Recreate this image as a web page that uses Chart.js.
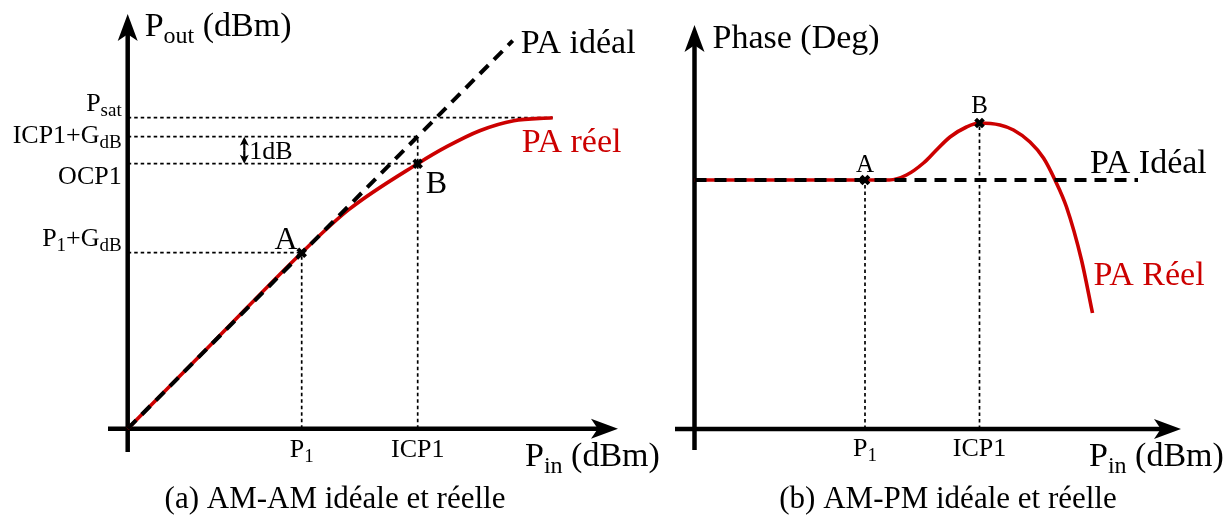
<!DOCTYPE html>
<html>
<head>
<meta charset="utf-8">
<script src="https://cdn.jsdelivr.net/npm/chart.js@4.4.0/dist/chart.umd.min.js"></script>
<style>
  html, body { margin: 0; padding: 0; background: #fff; }
  #wrap { position: relative; width: 1229px; height: 520px; }
  canvas { position: absolute; left: 0; top: 0; }
</style>
</head>
<body>
<div id="wrap">
  <canvas id="am-canvas" width="1229" height="520"></canvas>
  <canvas id="pm-canvas" width="1229" height="520"></canvas>
</div>
<script>
// --- (a) AM-AM ---
const amPinTicks = [17.4, 29.0]
const amPinLabels = ['P_{1}', 'ICP1']
const amPoutLevels = [31.1, 29.2, 26.5, 17.6]
const amPoutLabels = ['P_{sat}', 'ICP1+G_{dB}', 'OCP1', 'P_{1}+G_{dB}']
const amIdealX = [0, 38.5]
const amIdealY = [0, 38.8]
const amRealX = [0, 8.7, 17.4, 22.1, 29.0, 31.9, 35.2, 38.6, 42.5]
const amRealY = [0, 8.8, 17.6, 21.9, 26.5, 28.2, 29.8, 30.8, 31.1]
const amPointNames = ['A', 'B']

// --- (b) AM-PM ---
const pmPinTicks = [17.05, 28.5]
const pmPinLabels = ['P_{1}', 'ICP1']
const pmIdealX = [0, 44.35]
const pmIdealY = [24.9, 24.9]
const pmRealX = [0, 10, 17.05, 19.5, 21.2, 22.9, 24.0, 25.55, 27.2, 28.5, 30.55, 31.9, 33.55, 34.9, 36.05, 37.2, 38.7, 39.8]
const pmRealY = [24.9, 24.9, 24.9, 24.9, 25.4, 26.6, 27.7, 29.2, 30.2, 30.6, 30.4, 29.9, 28.7, 27.1, 24.9, 22.2, 16.9, 11.6]
const pmPointNames = ['A', 'B']

const RED = '#cc0000'
const SERIF = '"Liberation Serif", "Times New Roman", serif'

const toXY = (xs, ys) => xs.map((x, i) => ({ x: x, y: ys[i] }))

function richText(ctx, str, x, y, size, align, color) {
  const parts = []
  const re = /_\{([^}]*)\}/g
  let last = 0, m
  while ((m = re.exec(str))) {
    if (m.index > last) parts.push({ t: str.slice(last, m.index), sub: false })
    parts.push({ t: m[1], sub: true })
    last = re.lastIndex
  }
  if (last < str.length) parts.push({ t: str.slice(last), sub: false })
  const subSize = Math.round(size * 0.72)
  let w = 0
  parts.forEach(p => {
    ctx.font = (p.sub ? subSize : size) + 'px ' + SERIF
    p.w = ctx.measureText(p.t).width
    w += p.w
  })
  let cx = align === 'center' ? x - w / 2 : align === 'right' ? x - w : x
  ctx.save()
  ctx.fillStyle = color || '#000'
  ctx.textAlign = 'left'
  ctx.textBaseline = 'alphabetic'
  parts.forEach(p => {
    ctx.font = (p.sub ? subSize : size) + 'px ' + SERIF
    ctx.fillText(p.t, cx, p.sub ? y + size * 0.2 : y)
    cx += p.w
  })
  ctx.restore()
}

function arrow(ctx, x1, y1, x2, y2, len, half, width) {
  const a = Math.atan2(y2 - y1, x2 - x1)
  const c = Math.cos(a), s = Math.sin(a)
  ctx.save()
  ctx.strokeStyle = '#000'
  ctx.fillStyle = '#000'
  ctx.lineWidth = width
  ctx.setLineDash([])
  ctx.beginPath()
  ctx.moveTo(x1, y1)
  ctx.lineTo(x2 - c * len * 0.7, y2 - s * len * 0.7)
  ctx.stroke()
  ctx.beginPath()
  ctx.moveTo(x2, y2)
  ctx.lineTo(x2 - c * len - s * half, y2 - s * len + c * half)
  ctx.lineTo(x2 - c * len * 0.75, y2 - s * len * 0.75)
  ctx.lineTo(x2 - c * len + s * half, y2 - s * len - c * half)
  ctx.closePath()
  ctx.fill()
  ctx.restore()
}

function drawAxes(chart) {
  const { ctx, chartArea } = chart
  const x0 = chart.scales.x.getPixelForValue(0)
  const y0 = chart.scales.y.getPixelForValue(0)
  arrow(ctx, x0, chartArea.bottom, x0, chartArea.top, 27, 10, 4.5)
  arrow(ctx, chartArea.left, y0, chartArea.right, y0, 27, 10, 4.5)
}

const guide = (pts) => ({
  data: pts,
  borderColor: '#000',
  borderWidth: 1.7,
  borderDash: [3.5, 3],
  pointRadius: 0
})

const markerSet = (pts) => ({
  data: pts,
  showLine: false,
  pointStyle: 'crossRot',
  pointRadius: 5.5,
  pointBorderWidth: 4,
  pointBorderColor: '#000',
  borderColor: '#000'
})

const baseOptions = (pad, xr, yr) => ({
  responsive: false,
  animation: false,
  devicePixelRatio: 1,
  layout: { padding: pad },
  plugins: { legend: { display: false }, tooltip: { enabled: false } },
  scales: {
    x: { type: 'linear', min: xr[0], max: xr[1], display: false },
    y: { type: 'linear', min: yr[0], max: yr[1], display: false }
  }
})

// ---------- AM-AM ----------
const amMarks = [[amPinTicks[0], amPoutLevels[3]], [amPinTicks[1], amPoutLevels[2]]]
const amGuides = [
  guide([{ x: 0, y: amPoutLevels[0] }, { x: amRealX[amRealX.length - 1], y: amPoutLevels[0] }]),
  guide([{ x: 0, y: amPoutLevels[1] }, { x: amPinTicks[1], y: amPoutLevels[1] }]),
  guide([{ x: 0, y: amPoutLevels[2] }, { x: amPinTicks[1], y: amPoutLevels[2] }]),
  guide([{ x: 0, y: amPoutLevels[3] }, { x: amPinTicks[0], y: amPoutLevels[3] }]),
  guide([{ x: amPinTicks[0], y: 0 }, { x: amPinTicks[0], y: amPoutLevels[3] }]),
  guide([{ x: amPinTicks[1], y: 0 }, { x: amPinTicks[1], y: amPoutLevels[1] }])
]

new Chart(document.getElementById('am-canvas'), {
  type: 'line',
  data: {
    datasets: [
      markerSet(amMarks.map(p => ({ x: p[0], y: p[1] }))),
      {
        data: toXY(amIdealX, amIdealY),
        borderColor: '#000', borderWidth: 4, borderDash: [12, 8], pointRadius: 0
      },
      {
        data: toXY(amRealX, amRealY),
        borderColor: RED, borderWidth: 3.6, pointRadius: 0, cubicInterpolationMode: 'monotone'
      },
      ...amGuides
    ]
  },
  options: baseOptions({ left: 108, right: 611, top: 14, bottom: 68 }, [-1.97, 49.03], [-2.33, 41.47]),
  plugins: [{
    id: 'amDecor',
    beforeDatasetsDraw(chart) {
      drawAxes(chart)
    },
    afterDatasetsDraw(chart) {
      const { ctx, chartArea } = chart
      const sx = chart.scales.x, sy = chart.scales.y
      const x0 = sx.getPixelForValue(0), y0 = sy.getPixelForValue(0)
      // axis titles
      richText(ctx, 'P_{out} (dBm)', x0 + 17, chartArea.top + 22, 34, 'left')
      richText(ctx, 'P_{in} (dBm)', chartArea.right - 93, y0 + 37, 34, 'left')
      // x tick labels
      amPinTicks.forEach((v, i) => richText(ctx, amPinLabels[i], sx.getPixelForValue(v), y0 + 28, 26, 'center'))
      // y tick labels
      const dy = [-7, 6, 20, -7]
      amPoutLevels.forEach((v, i) => richText(ctx, amPoutLabels[i], x0 - 6, sy.getPixelForValue(v) + dy[i], 26, 'right'))
      // 1 dB arrow
      const ax = sx.getPixelForValue(11.66)
      const ya = sy.getPixelForValue(amPoutLevels[1]), yb = sy.getPixelForValue(amPoutLevels[2])
      const mid = (ya + yb) / 2
      arrow(ctx, ax, mid, ax, ya, 9, 4.5, 2.2)
      arrow(ctx, ax, mid, ax, yb, 9, 4.5, 2.2)
      richText(ctx, '1dB', ax + 5, mid + 9, 26, 'left')
      // point names
      const pa = amMarks[0], pb = amMarks[1]
      richText(ctx, amPointNames[0], sx.getPixelForValue(pa[0]) - 4, sy.getPixelForValue(pa[1]) - 4, 32, 'right')
      richText(ctx, amPointNames[1], sx.getPixelForValue(pb[0]) + 8, sy.getPixelForValue(pb[1]) + 29, 32, 'left')
      // series names
      const ie = amIdealX.length - 1, re = amRealX.length - 1
      richText(ctx, 'PA idéal', sx.getPixelForValue(amIdealX[ie]) + 8, sy.getPixelForValue(amIdealY[ie]) + 12, 34, 'left')
      richText(ctx, 'PA réel', sx.getPixelForValue(amRealX[re]) - 31, sy.getPixelForValue(amRealY[re]) + 34, 34, 'left', RED)
      // caption
      richText(ctx, '(a) AM-AM idéale et réelle', 335, 508, 31, 'center')
    }
  }]
})

// ---------- AM-PM ----------
const pmMarks = [[pmPinTicks[0], pmIdealY[0]], [pmPinTicks[1], pmRealY[pmRealX.indexOf(pmPinTicks[1])]]]
const pmGuides = [
  guide([{ x: pmPinTicks[0], y: 0 }, { x: pmPinTicks[0], y: pmMarks[0][1] }]),
  guide([{ x: pmPinTicks[1], y: 0 }, { x: pmPinTicks[1], y: pmMarks[1][1] }])
]

new Chart(document.getElementById('pm-canvas'), {
  type: 'line',
  data: {
    datasets: [
      markerSet(pmMarks.map(p => ({ x: p[0], y: p[1] }))),
      {
        data: toXY(pmIdealX, pmIdealY),
        borderColor: '#000', borderWidth: 4, borderDash: [12, 8], pointRadius: 0
      },
      {
        data: toXY(pmRealX, pmRealY),
        borderColor: RED, borderWidth: 3.6, pointRadius: 0, cubicInterpolationMode: 'monotone'
      },
      ...pmGuides
    ]
  },
  options: baseOptions({ left: 675, right: 48, top: 25, bottom: 70 }, [-1.95, 48.65], [-2.1, 40.4]),
  plugins: [{
    id: 'pmDecor',
    beforeDatasetsDraw(chart) {
      drawAxes(chart)
    },
    afterDatasetsDraw(chart) {
      const { ctx, chartArea } = chart
      const sx = chart.scales.x, sy = chart.scales.y
      const x0 = sx.getPixelForValue(0), y0 = sy.getPixelForValue(0)
      richText(ctx, 'Phase (Deg)', x0 + 18, chartArea.top + 23, 34, 'left')
      richText(ctx, 'P_{in} (dBm)', chartArea.right - 92, y0 + 37, 34, 'left')
      pmPinTicks.forEach((v, i) => richText(ctx, pmPinLabels[i], sx.getPixelForValue(v), y0 + 27, 26, 'center'))
      const pa = pmMarks[0], pb = pmMarks[1]
      richText(ctx, pmPointNames[0], sx.getPixelForValue(pa[0]), sy.getPixelForValue(pa[1]) - 8, 25, 'center')
      richText(ctx, pmPointNames[1], sx.getPixelForValue(pb[0]), sy.getPixelForValue(pb[1]) - 10, 25, 'center')
      const ie = pmIdealX.length - 1, re = pmRealX.length - 1
      richText(ctx, 'PA Idéal', sx.getPixelForValue(pmIdealX[ie]) - 48, sy.getPixelForValue(pmIdealY[ie]) - 7, 34, 'left')
      richText(ctx, 'PA Réel', sx.getPixelForValue(pmRealX[re]) + 1, sy.getPixelForValue(pmRealY[re]) - 28, 34, 'left', RED)
      richText(ctx, '(b) AM-PM idéale et réelle', 948, 508, 31, 'center')
    }
  }]
})
</script>
</body>
</html>
